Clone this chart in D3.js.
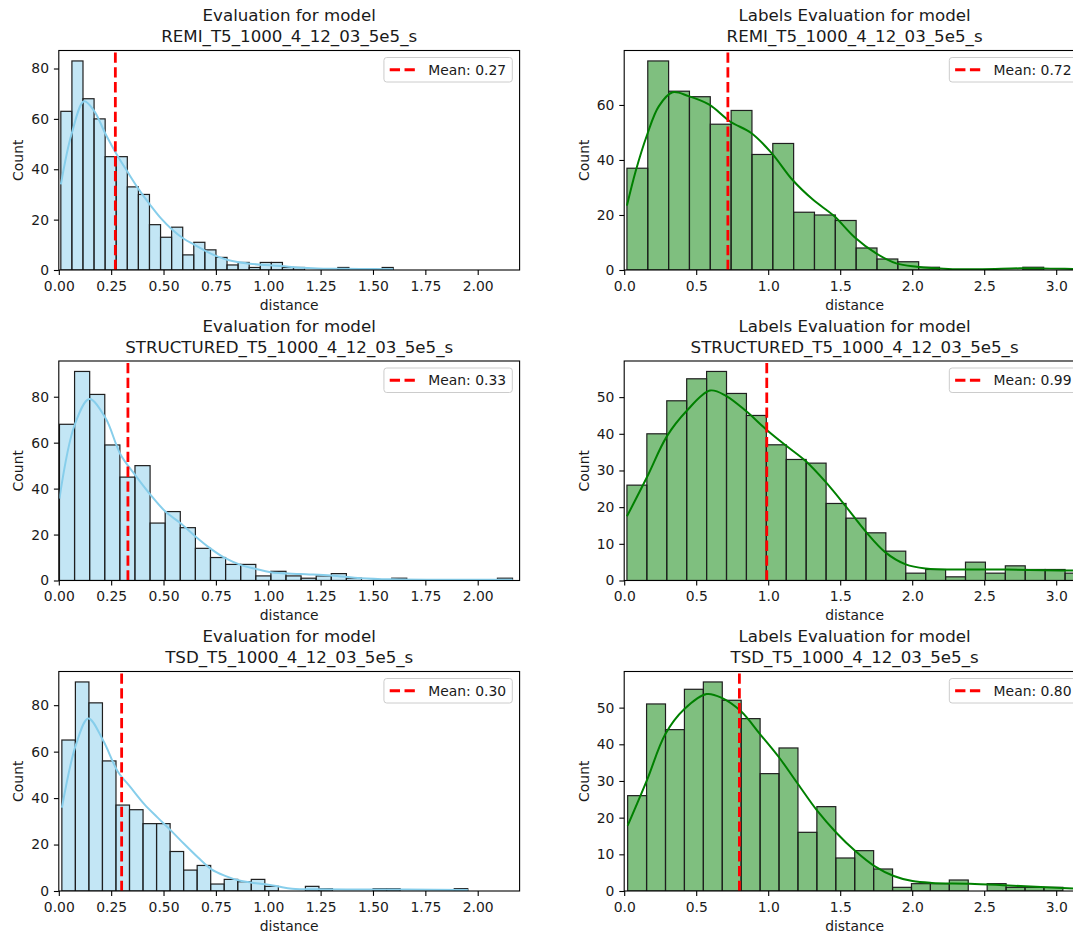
<!DOCTYPE html>
<html lang="en">
<head>
<meta charset="UTF-8">
<title>Evaluation for model</title>
<script src="https://cdn.jsdelivr.net/npm/d3@7"></script>
<style>
  body { margin: 0; background: #fff; overflow: hidden; }
  svg { display: block; font-family: 'DejaVu Sans', sans-serif; }
  text { fill: #1a1a1a; }
</style>
</head>
<body>
<svg id="chart" width="1073" height="935"></svg>
<script>
// ---- values ----
const modelNames = ["REMI_T5_1000_4_12_03_5e5_s", "STRUCTURED_T5_1000_4_12_03_5e5_s", "TSD_T5_1000_4_12_03_5e5_s"];
const means = [0.27, 0.33, 0.30];
const labelMeans = [0.72, 0.99, 0.80];

// left column: distance histograms (bin start, bin width, counts)
const remiStart = 0.0097, remiWidth = 0.0529;
const remiCounts = [63,83,68,60,45,45,33,30,18,13,17,6,11,8,5,2,3,1,3,3,1,1,0,0,0,1,0,0,0,1];
const remiKdeX = [0.010,0.061,0.121,0.170,0.223,0.276,0.328,0.382,0.435,0.488,0.542,0.595,0.648,0.702,0.753,0.807,0.913,1.020,1.125,1.234,1.334,1.439,1.597];
const remiKdeY = [34,54,67,63,54,46,39,32,26,20.5,16,12.5,10,7.5,5.5,4,2.5,1.8,1.1,0.6,0.5,0.4,0.3];

const structStart = 0.0032, structWidth = 0.0721;
const structCounts = [68,91,81,59,45,50,25,30,23,14,10,7,7,2,4,2,1,2,3,1,0,0,1,0,0,0,0,0,0,1];
const structKdeX = [0.003,0.076,0.146,0.223,0.294,0.364,0.438,0.509,0.580,0.652,0.723,0.795,0.868,0.939,1.011,1.154,1.298,1.442,1.588,1.819,2.167];
const structKdeY = [35.6,67.8,79,70.7,55,46,37.3,30,25,19.2,14,9.7,6.8,5.1,3.6,2.8,2.2,1.0,0.5,0.3,0.3];

const tsdStart = 0.0146, tsdWidth = 0.0646;
const tsdCounts = [65,90,81,56,37,35,29,29,17,9,11,3,5,4,5,2,0,0,2,1,0,0,0,1,1,0,0,0,0,1];
const tsdKdeX = [0.015,0.082,0.141,0.213,0.280,0.344,0.409,0.472,0.537,0.600,0.665,0.729,0.794,0.857,0.922,0.986,1.049,1.114,1.243,1.496,1.657,1.953];
const tsdKdeY = [35.9,63,74.3,64.6,51.7,44.5,37.3,31.6,25.9,20.1,14.4,9.3,6.5,4.6,3.6,2.9,1.9,1.0,0.7,0.6,0.6,0.4];

// right column: labels distance histograms
const remiLabStart = 0.019, remiLabWidth = 0.1447;
const remiLabCounts = [37,76,65,63,53,58,42,46,21,20,18,8,4,3,1,0,0,0,0,1,0,0];
const remiLabKdeX = [0.019,0.08,0.158,0.24,0.336,0.447,0.591,0.735,0.882,1.024,1.168,1.312,1.456,1.600,1.747,1.889,2.033,2.251,2.487,2.747,2.960,3.2];
const remiLabKdeY = [23.4,36,49,59.5,64.6,63.2,60.1,54,49.8,42.5,32.8,25.5,19.7,11.9,6.1,2.4,1.2,0.4,0.3,0.6,0.5,0.3];

const structLabStart = 0.019, structLabWidth = 0.1383;
const structLabCounts = [26,40,49,55,57,51,45,37,33,32,21,17,13,8,2,3,1,5,2,4,3,3,2];
const structLabKdeX = [0.019,0.156,0.296,0.433,0.596,0.709,0.846,0.986,1.123,1.262,1.400,1.539,1.676,1.816,1.955,2.092,2.369,2.643,2.922,3.2];
const structLabKdeY = [17.5,28,39.3,46.2,51.8,50.3,46.2,41.2,36.8,32.5,26.8,20.2,13.4,7.6,4.4,3.3,3.0,3.0,2.8,2.7];

const tsdLabStart = 0.024, tsdLabWidth = 0.1314;
const tsdLabCounts = [26,51,44,55,57,52,47,32,39,16,23,9,11,6,1,2,2,3,0,2,1,1,1,0];
const tsdLabKdeX = [0.024,0.156,0.286,0.418,0.572,0.681,0.811,0.943,1.076,1.208,1.340,1.473,1.605,1.738,1.872,2.002,2.137,2.400,2.667,2.929,3.2];
const tsdLabKdeY = [17.8,30,42.8,49.6,53.7,52.6,49,42.8,36.4,29.1,21.9,15.9,10.9,6.8,4.1,2.7,2.2,2.0,1.5,1.0,0.5];

const leftTicks = [0, 0.25, 0.5, 0.75, 1.0, 1.25, 1.5, 1.75, 2.0];
const rightTicks = [0, 0.5, 1.0, 1.5, 2.0, 2.5, 3.0];
const countTicks80 = [0, 20, 40, 60, 80];
const countTicks60 = [0, 20, 40, 60];
const countTicks50 = [0, 10, 20, 30, 40, 50];

// ---- layout ----
const colX = [58.8, 624.2];
const rowY = [50.5, 361, 671.5];
const axW = 460.8, axH = 219.5;
const fontSize = 13.9, titleSize = 16.67;

const svg = d3.select("#chart");

const panels = [
    {row: 0, col: 0, title: "Evaluation for model", model: modelNames[0], mean: means[0], start: remiStart, width: remiWidth, counts: remiCounts, kx: remiKdeX, ky: remiKdeY, yTicks: countTicks80},
    {row: 1, col: 0, title: "Evaluation for model", model: modelNames[1], mean: means[1], start: structStart, width: structWidth, counts: structCounts, kx: structKdeX, ky: structKdeY, yTicks: countTicks80},
    {row: 2, col: 0, title: "Evaluation for model", model: modelNames[2], mean: means[2], start: tsdStart, width: tsdWidth, counts: tsdCounts, kx: tsdKdeX, ky: tsdKdeY, yTicks: countTicks80},
    {row: 0, col: 1, title: "Labels Evaluation for model", model: modelNames[0], mean: labelMeans[0], start: remiLabStart, width: remiLabWidth, counts: remiLabCounts, kx: remiLabKdeX, ky: remiLabKdeY, yTicks: countTicks60},
    {row: 1, col: 1, title: "Labels Evaluation for model", model: modelNames[1], mean: labelMeans[1], start: structLabStart, width: structLabWidth, counts: structLabCounts, kx: structLabKdeX, ky: structLabKdeY, yTicks: countTicks50},
    {row: 2, col: 1, title: "Labels Evaluation for model", model: modelNames[2], mean: labelMeans[2], start: tsdLabStart, width: tsdLabWidth, counts: tsdLabCounts, kx: tsdLabKdeX, ky: tsdLabKdeY, yTicks: countTicks50}
];

panels.forEach((p, idx) => drawPanel(p, idx));

function drawPanel(p, idx) {
    const left = p.col === 0;
    const color = left ? "#87ceeb" : "#008000";
    const g = svg.append("g")
        .attr("transform", `translate(${colX[p.col]},${rowY[p.row]})`);

    const x = d3.scaleLinear().domain([0, left ? 2.2 : 3.2]).range([0, axW]);
    const y = d3.scaleLinear().domain([0, d3.max(p.counts) * 1.05]).range([axH, 0]);

    g.append("clipPath").attr("id", "clip" + idx)
        .append("rect").attr("width", axW).attr("height", axH);
    const plot = g.append("g").attr("clip-path", `url(#clip${idx})`);

    // bars
    const bins = p.counts.map((c, i) => ({x0: p.start + i * p.width, x1: p.start + (i + 1) * p.width, c: c}))
        .filter(d => d.c > 0);
    plot.selectAll("rect.bar").data(bins).enter().append("rect")
        .attr("class", "bar")
        .attr("x", d => x(d.x0))
        .attr("width", d => x(d.x1) - x(d.x0))
        .attr("y", d => y(d.c))
        .attr("height", d => axH - y(d.c))
        .attr("fill", color)
        .attr("fill-opacity", 0.5)
        .attr("stroke", "#1f1f1f")
        .attr("stroke-width", 1.2);

    // kde curve
    const line = d3.line()
        .x((d, i) => x(p.kx[i]))
        .y(d => y(d))
        .curve(d3.curveCatmullRom.alpha(0.5));
    plot.append("path")
        .datum(p.ky)
        .attr("fill", "none")
        .attr("stroke", color)
        .attr("stroke-width", 2)
        .attr("d", line);

    // mean line
    plot.append("path")
        .attr("d", `M${x(p.mean)},${axH}L${x(p.mean)},0`)
        .attr("stroke", "#ff0000")
        .attr("stroke-width", 2.8)
        .attr("stroke-dasharray", "10.3,4.5");

    // axes
    const xAxis = g.append("g")
        .attr("transform", `translate(0,${axH})`)
        .call(d3.axisBottom(x)
            .tickValues(left ? leftTicks : rightTicks)
            .tickFormat(d3.format(left ? ".2f" : ".1f"))
            .tickSize(4.9).tickPadding(4.9));
    const yAxis = g.append("g")
        .call(d3.axisLeft(y).tickValues(p.yTicks).tickSize(4.9).tickPadding(4.9));
    [xAxis, yAxis].forEach(a => {
        a.select(".domain").remove();
        a.attr("font-family", "'DejaVu Sans', sans-serif").attr("font-size", fontSize);
        a.selectAll(".tick line").attr("stroke", "#000").attr("stroke-width", 1.1);
        a.selectAll(".tick text").attr("fill", "#1a1a1a");
    });
    xAxis.selectAll(".tick text").attr("dy", "0.8em");

    // spines
    g.append("rect")
        .attr("width", axW).attr("height", axH)
        .attr("fill", "none").attr("stroke", "#000").attr("stroke-width", 1.1);

    // labels
    g.append("text")
        .attr("x", axW / 2).attr("y", axH + 39.5)
        .attr("text-anchor", "middle").attr("font-size", fontSize)
        .text("distance");
    g.append("text")
        .attr("transform", `translate(-35.7,${axH / 2}) rotate(-90)`)
        .attr("text-anchor", "middle").attr("font-size", fontSize)
        .text("Count");

    // title
    const title = g.append("text")
        .attr("text-anchor", "middle").attr("font-size", titleSize);
    title.append("tspan").attr("x", axW / 2).attr("y", -29.3).text(p.title);
    title.append("tspan").attr("x", axW / 2).attr("y", -8.4).text(p.model);

    // legend
    const leg = g.append("g");
    const legText = leg.append("text")
        .attr("font-size", fontSize)
        .text("Mean: " + d3.format(".2f")(p.mean));
    const tw = legText.node().getComputedTextLength();
    const boxW = 44.3 + tw + 6.2, boxH = 24.5;
    const bx = axW - 7.3 - boxW, by = 7;
    leg.insert("rect", "text")
        .attr("x", bx).attr("y", by).attr("width", boxW).attr("height", boxH)
        .attr("rx", 2.8)
        .attr("fill", "#fff").attr("fill-opacity", 0.8)
        .attr("stroke", "#cccccc").attr("stroke-width", 1);
    leg.insert("path", "text")
        .attr("d", `M${bx + 5.8},${by + boxH / 2}h27.8`)
        .attr("stroke", "#ff0000").attr("stroke-width", 2.8)
        .attr("stroke-dasharray", "10.3,4.5");
    legText.attr("x", bx + 44.3).attr("y", by + 17);
}
</script>
</body>
</html>
